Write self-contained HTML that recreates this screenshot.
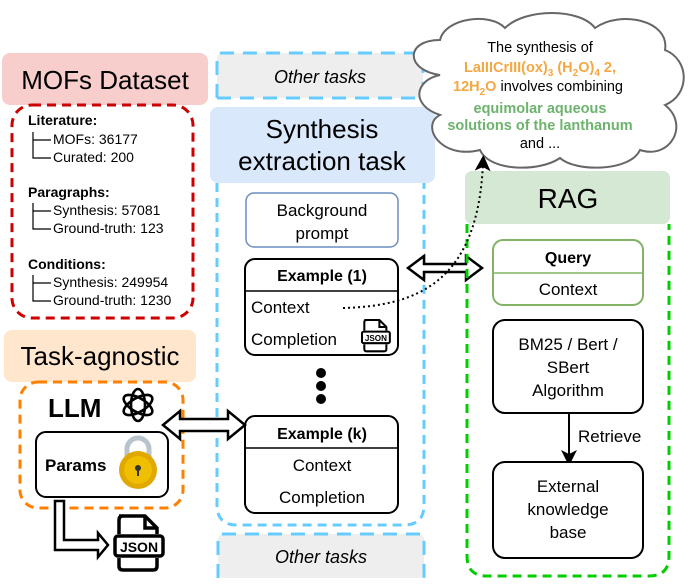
<!DOCTYPE html>
<html><head><meta charset="utf-8"><style>
html,body{margin:0;padding:0;background:#fff;}
svg text{font-family:"Liberation Sans",Arial,sans-serif;}
</style></head><body>
<svg width="692" height="581" viewBox="0 0 692 581" xmlns="http://www.w3.org/2000/svg">
<defs>
<marker id="ah" markerWidth="8" markerHeight="8" refX="4" refY="4" orient="auto"><path d="M0,0 L8,4 L0,8 L2,4 Z" fill="#000"/></marker>
<g id="json">
  <path d="M4,0 H30 L42,12 V18 M42,42 V50 Q42,54 38,54 H8 Q4,54 4,50 V42 M4,18 V4 Q4,0 8,0" fill="none" stroke="#000" stroke-width="3.5"/>
  <path d="M30,0 V12 H42" fill="none" stroke="#000" stroke-width="3.5"/>
  <rect x="0" y="20" width="48" height="20" rx="3" fill="#fff" stroke="#000" stroke-width="3.5"/>
  <text x="24" y="36" font-size="14" font-weight="bold" text-anchor="middle">JSON</text>
</g>
</defs>

<!-- MOFs Dataset -->
<rect x="2" y="53" width="206" height="52" rx="8" fill="#f8cecc"/>
<text x="105" y="89" font-size="26" text-anchor="middle">MOFs Dataset</text>
<rect x="12" y="105" width="181" height="213" rx="20" fill="none" stroke="#cc0000" stroke-width="3" stroke-dasharray="9,6"/>
<g font-size="14" fill="#000">
<text x="28" y="125" font-weight="bold">Literature:</text>
<text x="53" y="144">MOFs: 36177</text>
<text x="53" y="162">Curated:  200</text>
<text x="28" y="197" font-weight="bold">Paragraphs:</text>
<text x="53" y="215">Synthesis:  57081</text>
<text x="53" y="233">Ground-truth: 123</text>
<text x="28" y="269" font-weight="bold">Conditions:</text>
<text x="53" y="287">Synthesis:  249954</text>
<text x="53" y="305">Ground-truth: 1230</text>
</g>
<g fill="none" stroke="#000" stroke-width="1.2">
<path d="M33,132 V158 H51 M33,140 H51"/>
<path d="M33,203 V229 H51 M33,211 H51"/>
<path d="M33,275 V301 H51 M33,283 H51"/>
</g>

<!-- Task-agnostic -->
<rect x="4" y="330" width="192" height="52" rx="8" fill="#ffe6cc"/>
<text x="100" y="365" font-size="26" text-anchor="middle">Task-agnostic</text>
<rect x="20" y="382" width="163" height="126" rx="18" fill="none" stroke="#ff8000" stroke-width="3" stroke-dasharray="9,6"/>
<text x="48" y="417" font-size="26" font-weight="bold">LLM</text>
<g transform="translate(138,405)" fill="none" stroke="#000" stroke-width="2.6">
  <ellipse rx="7" ry="16" transform="rotate(0)"/>
  <ellipse rx="7" ry="16" transform="rotate(60)"/>
  <ellipse rx="7" ry="16" transform="rotate(120)"/>
</g>
<rect x="36" y="432" width="132" height="65" rx="10" fill="#fff" stroke="#000" stroke-width="2"/>
<text x="45" y="471" font-size="17" font-weight="bold">Params</text>
<path d="M127,459 V449 A11,11 0 0 1 149,449 V459" fill="none" stroke="#b8c4cc" stroke-width="5"/>
<circle cx="138" cy="470" r="19" fill="#e0a800"/>
<circle cx="138" cy="470" r="14" fill="#f0c000"/>
<circle cx="138" cy="468" r="3" fill="#333"/><rect x="137" y="469" width="2" height="7" fill="#333"/>
<path d="M55,501 H64 V540 H98 V533 L108,545 L98,557 V550 H55 Z" fill="#fff" stroke="#000" stroke-width="2.5" stroke-linejoin="miter"/>
<use href="#json" x="115" y="516"/>

<!-- Blue column -->
<rect x="217" y="53" width="206" height="45" rx="5" fill="#eeeeee"/>
<path d="M217,98 V58 Q217,53 222,53 H418 Q423,53 423,58 V98" fill="none" stroke="#66ccff" stroke-width="3" stroke-dasharray="14,9"/>
<path d="M217,98 H423" fill="none" stroke="#66ccff" stroke-width="3" stroke-dasharray="14,9"/>
<text x="320" y="83" font-size="18" font-style="italic" text-anchor="middle">Other tasks</text>
<path d="M217,183 V505 Q217,525 237,525 H404 Q424,525 424,505 V183" fill="none" stroke="#66ccff" stroke-width="3" stroke-dasharray="9,6"/>
<rect x="210" y="107" width="225" height="76" rx="8" fill="#dae8fc"/>
<text x="322" y="138" font-size="26" text-anchor="middle">Synthesis</text>
<text x="322" y="170" font-size="26" text-anchor="middle">extraction task</text>
<rect x="246" y="193" width="152" height="54" rx="8" fill="#fff" stroke="#6c8ebf" stroke-width="1.5"/>
<text x="322" y="216" font-size="17" text-anchor="middle">Background</text>
<text x="322" y="239" font-size="17" text-anchor="middle">prompt</text>
<rect x="245" y="259" width="153" height="96" rx="10" fill="#fff" stroke="#000" stroke-width="2"/>
<line x1="245" y1="291" x2="398" y2="291" stroke="#000" stroke-width="1.5"/>
<text x="322" y="281" font-size="16" font-weight="bold" text-anchor="middle">Example (1)</text>
<text x="251" y="313" font-size="17">Context</text>
<text x="251" y="345" font-size="17">Completion</text>
<use href="#json" transform="translate(362,320) scale(0.58)"/>
<circle cx="321" cy="373" r="5"/><circle cx="321" cy="386" r="5"/><circle cx="321" cy="399" r="5"/>
<rect x="245" y="416" width="153" height="97" rx="10" fill="#fff" stroke="#000" stroke-width="2"/>
<line x1="245" y1="448" x2="398" y2="448" stroke="#000" stroke-width="1.5"/>
<text x="322" y="439" font-size="16" font-weight="bold" text-anchor="middle">Example (k)</text>
<text x="322" y="471" font-size="17" text-anchor="middle">Context</text>
<text x="322" y="503" font-size="17" text-anchor="middle">Completion</text>
<rect x="218" y="534" width="206" height="44" rx="5" fill="#eeeeee"/>
<path d="M218,578 V539 Q218,534 223,534 H419 Q424,534 424,539 V578" fill="none" stroke="#66ccff" stroke-width="3" stroke-dasharray="14,9"/>
<text x="321" y="563" font-size="18" font-style="italic" text-anchor="middle">Other tasks</text>

<!-- double arrows -->
<path d="M163,425 L180,411 V419 H228 V411 L245,425 L228,439 V431 H180 V439 Z" fill="#fff" stroke="#000" stroke-width="2.5"/>
<path d="M408,268 L424,256 V264 H466 V256 L482,268 L466,280 V272 H424 V280 Z" fill="#fff" stroke="#000" stroke-width="2.5"/>

<!-- RAG -->
<rect x="465" y="171" width="205" height="53" rx="7" fill="#d5e8d4"/>
<text x="568" y="208" font-size="28" text-anchor="middle">RAG</text>
<path d="M467,224 V556 Q467,576 487,576 H649 Q669,576 669,556 V224" fill="none" stroke="#00cc00" stroke-width="3" stroke-dasharray="9,6"/>
<rect x="493" y="240" width="150" height="65" rx="10" fill="#fff" stroke="#82b366" stroke-width="2"/>
<line x1="493" y1="273" x2="643" y2="273" stroke="#82b366" stroke-width="1.5"/>
<text x="568" y="263" font-size="16" font-weight="bold" text-anchor="middle">Query</text>
<text x="568" y="295" font-size="17" text-anchor="middle">Context</text>
<rect x="493" y="320" width="150" height="93" rx="12" fill="#fff" stroke="#000" stroke-width="2"/>
<text x="568" y="350" font-size="17" text-anchor="middle">BM25 / Bert /</text>
<text x="568" y="373" font-size="17" text-anchor="middle">SBert</text>
<text x="568" y="396" font-size="17" text-anchor="middle">Algorithm</text>
<line x1="569" y1="413" x2="569" y2="458" stroke="#000" stroke-width="2" marker-end="url(#ah)"/>
<text x="578" y="442" font-size="17">Retrieve</text>
<rect x="493" y="462" width="150" height="96" rx="12" fill="#fff" stroke="#000" stroke-width="2"/>
<text x="568" y="492" font-size="17" text-anchor="middle">External</text>
<text x="568" y="515" font-size="17" text-anchor="middle">knowledge</text>
<text x="568" y="538" font-size="17" text-anchor="middle">base</text>

<!-- Cloud -->
<path d="M440,75 C405,70 405,40 440,40 C445,18 490,12 505,28 C525,8 580,8 595,28 C620,10 670,20 665,50 C690,60 690,95 665,105 C690,125 670,160 640,150 C630,172 575,172 560,158 C540,172 490,172 480,150 C440,160 420,125 440,115 C410,105 415,80 440,75 Z" fill="#fff" stroke="#666" stroke-width="2"/>
<g font-size="14.5" text-anchor="middle">
<text x="540" y="52">The synthesis of</text>
<text x="540" y="72" fill="#f5a742" font-weight="bold">LaIIICrIII(ox)<tspan font-size="10" dy="4">3</tspan><tspan dy="-4"> (H</tspan><tspan font-size="10" dy="4">2</tspan><tspan dy="-4">O)</tspan><tspan font-size="10" dy="4">4</tspan><tspan dy="-4"> 2,</tspan></text>
<text x="538" y="91"><tspan fill="#f5a742" font-weight="bold">12H<tspan font-size="10" dy="4">2</tspan><tspan dy="-4">O</tspan></tspan> involves combining</text>
<text x="540" y="113" fill="#6db36d" font-weight="bold">equimolar aqueous</text>
<text x="540" y="130" fill="#6db36d" font-weight="bold">solutions of the lanthanum</text>
<text x="540" y="148">and ...</text>
</g>
<path d="M343,308 C420,306 478,280 483,163" fill="none" stroke="#000" stroke-width="2" stroke-dasharray="2,3" marker-end="url(#ah)"/>
</svg>
</body></html>
